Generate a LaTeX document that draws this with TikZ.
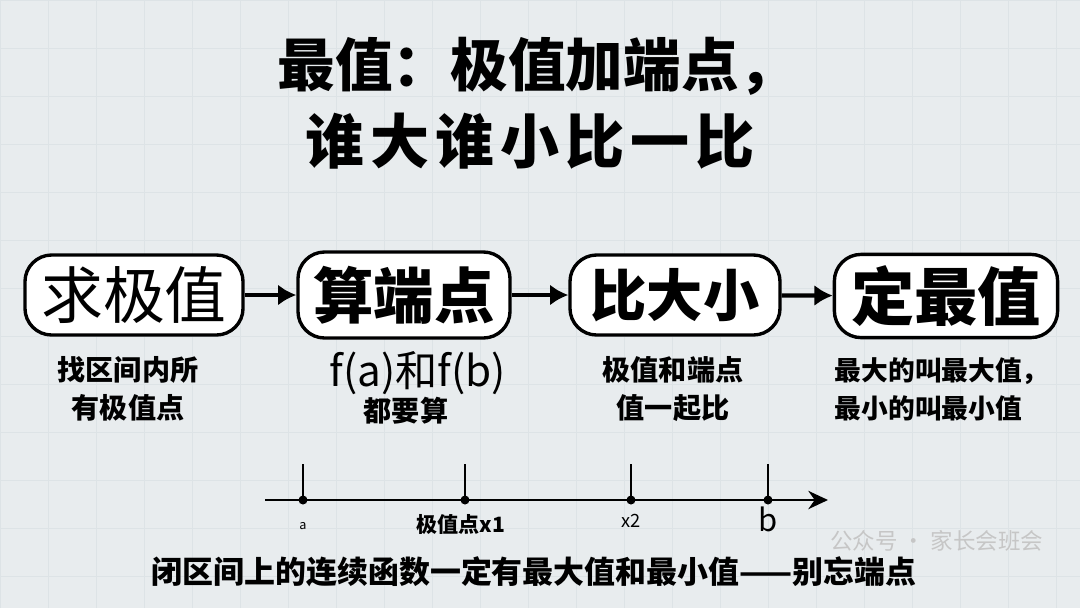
\documentclass[tikz,border=0pt]{standalone}
\usepackage{fontspec}
\setmainfont{Noto Sans CJK SC}
\usetikzlibrary{arrows.meta,positioning}

\definecolor{paper}{HTML}{E8ECEE}
\definecolor{gridline}{HTML}{DDE3E6}

\tikzset{
  stagebox/.style={draw=black,line width=2.4pt,fill=white,rounded corners=19pt,inner sep=0pt},
  flow/.style={-{Latex[length=13pt,width=15pt]},line width=3pt},
  note/.style={align=center,font=\fontsize{20}{27}\selectfont\bfseries},
  tick/.style={line width=1.8pt},
  axislabel/.style={below,inner sep=2pt}
}

\begin{document}
\begin{tikzpicture}[x=0.025cm,y=-0.025cm]

\useasboundingbox (0,0) rectangle (1080,608);
\fill[paper] (0,0) rectangle (1080,608);
\draw[gridline,line width=0.6pt,step=1.2cm] (0,0) grid (1080,608);

\node[font=\fontsize{41}{44}\selectfont\bfseries] (title1) at (537,66) {最值：极值加端点，};
\node[font=\fontsize{42}{46}\selectfont\bfseries\addfontfeature{LetterSpace=10}] (title2) at (530,141) {谁大谁小比一比};

\node[stagebox,minimum width=5.45cm,minimum height=2.0cm,font=\fontsize{44}{48}\selectfont] (qiu) at (134,295) {求极值};
\node[stagebox,minimum width=5.3cm,minimum height=2.15cm,font=\fontsize{43}{48}\selectfont\bfseries] (suan) at (404,295) {算端点};
\node[stagebox,minimum width=5.25cm,minimum height=2.0cm,font=\fontsize{40}{46}\selectfont\bfseries] (bi) at (675,295) {比大小};
\node[stagebox,minimum width=5.58cm,minimum height=2.08cm,font=\fontsize{45}{50}\selectfont\bfseries] (ding) at (946,296) {定最值};

\draw[flow] (qiu) -- (suan);
\draw[flow] (suan) -- (bi);
\draw[flow] (bi) -- (ding);

\node[note] (qiunote) at (128,389) {找区间内所\\有极值点};
\node[font=\fontsize{30}{32}\selectfont] (suannote) at (418,373) {f(a)和f(b)};
\node[note] (suannote2) at (406,411) {都要算};
\node[note] (binote) at (673,389) {极值和端点\\值一起比};
\node[note,align=left,anchor=west,font=\fontsize{19}{27}\selectfont\bfseries] (dingnote) at (830,389) {最大的叫最大值，\\最小的叫最小值};

% number line
\coordinate (start) at (265,500);
\coordinate (end) at (828,500);
\coordinate (pa) at (303,500);
\coordinate (px1) at (465,500);
\coordinate (px2) at (631,500);
\coordinate (pb) at (768,500);
\draw[-{Stealth[length=14pt,width=13pt]},line width=1.8pt] (start) -- (end);
\foreach \p in {pa,px1,px2,pb}{
  \draw[tick] (\p) -- ++(0,-36);
  \fill (\p) circle (3.2pt);
}
\node[axislabel,font=\fontsize{9}{10}\selectfont] (la) at ([yshift=-14pt]pa) {a};
\node[axislabel,font=\fontsize{15}{18}\selectfont\bfseries] (lx1) at ([xshift=-3pt,yshift=-8pt]px1) {极值点x1};
\node[axislabel,font=\fontsize{13}{16}\selectfont] (lx2) at ([yshift=-8pt]px2) {x2};
\node[axislabel,font=\fontsize{22}{24}\selectfont\itshape] (lb) at ([yshift=-3pt]pb) {b};

\node[text=gray!45,font=\fontsize{16}{18}\selectfont,anchor=east] (mark) at (1048,541) {公众号 · 家长会班会};
\node[font=\fontsize{22}{24}\selectfont\bfseries] (footer) at (534,572) {闭区间上的连续函数一定有最大值和最小值——别忘端点};

\end{tikzpicture}
\end{document}
